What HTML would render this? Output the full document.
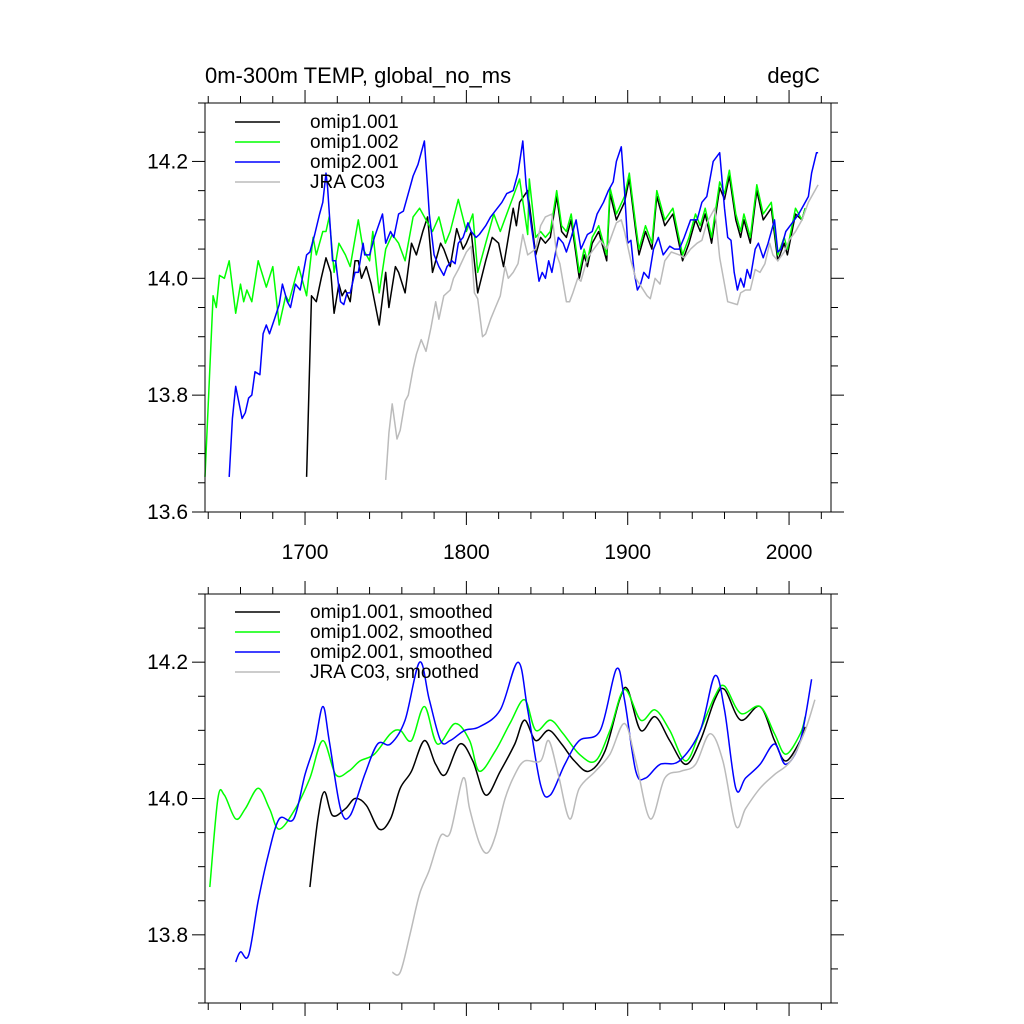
<!DOCTYPE html>
<html><head><meta charset="utf-8"><style>
html,body{margin:0;padding:0;background:#fff;}
svg{display:block;font-family:"Liberation Sans",sans-serif;}
</style></head><body>
<svg id="chart" width="1024" height="1024" viewBox="0 0 1024 1024" xmlns="http://www.w3.org/2000/svg"></svg>
<script>
// ---- TOP PANEL DATA (raw) ----
const greenYears = [1638,1643,1645,1647,1650,1653,1657,1660,1662,1664,1667,1671,1676,1680,1684,1688,1690,1696,1701,1705,1707,1711,1713,1715,1718,1721,1725,1728,1733,1736,1740,1742,1746,1750,1754,1758,1762,1767,1771,1775,1779,1783,1787,1790,1795,1800,1804,1807,1812,1817,1821,1829,1833,1838,1839,1843,1846,1849,1852,1856,1859,1862,1865,1870,1873,1875,1878,1882,1887,1889,1893,1898,1901,1905,1907,1911,1915,1918,1923,1928,1931,1934,1938,1942,1945,1948,1952,1957,1960,1963,1967,1970,1972,1976,1980,1984,1989,1993,1997,1999,2004,2008,2010];
const greenVals  = [13.66,13.97,13.95,14.005,14.0,14.03,13.94,13.99,13.96,13.98,13.96,14.03,13.985,14.02,13.92,13.97,13.96,14.02,13.97,14.07,14.04,14.08,14.08,14.105,14.01,14.06,14.04,14.02,14.1,14.05,14.03,14.08,13.975,14.05,14.075,14.06,14.03,14.105,14.12,14.1,14.08,14.105,14.06,14.08,14.135,14.08,14.11,14.01,14.06,14.11,14.08,14.14,14.17,14.075,14.17,14.07,14.08,14.07,14.08,14.15,14.09,14.08,14.11,14.01,14.05,14.03,14.07,14.09,14.04,14.155,14.11,14.14,14.18,14.09,14.05,14.09,14.06,14.15,14.1,14.12,14.08,14.04,14.07,14.11,14.09,14.12,14.07,14.165,14.145,14.185,14.11,14.08,14.11,14.07,14.16,14.11,14.13,14.04,14.07,14.05,14.12,14.1,14.12];
const blackYears = [1701,1704,1707,1710,1713,1716,1718,1721,1723,1725,1728,1731,1733,1735,1738,1741,1746,1750,1752,1756,1758,1762,1766,1769,1773,1776,1779,1784,1786,1790,1794,1798,1800,1803,1807,1812,1816,1820,1823,1829,1831,1833,1838,1843,1846,1849,1852,1856,1859,1862,1865,1870,1873,1875,1878,1882,1887,1889,1893,1898,1901,1905,1907,1911,1915,1918,1923,1928,1931,1934,1938,1942,1945,1948,1952,1957,1960,1963,1967,1970,1972,1976,1980,1984,1989,1993,1997,1999,2004,2008,2010];
const blackVals  = [13.66,13.97,13.96,14.0,14.035,14.01,13.94,13.99,13.97,13.98,13.96,14.03,14.03,14.0,14.02,13.99,13.92,14.01,13.95,14.02,14.01,13.975,14.06,14.04,14.08,14.105,14.01,14.06,14.05,14.02,14.085,14.05,14.06,14.08,13.975,14.03,14.07,14.06,14.02,14.12,14.09,14.13,14.15,14.04,14.07,14.06,14.07,14.14,14.08,14.07,14.1,14.0,14.04,14.02,14.06,14.08,14.03,14.145,14.1,14.13,14.17,14.08,14.04,14.08,14.05,14.14,14.09,14.11,14.07,14.03,14.06,14.1,14.08,14.11,14.06,14.155,14.135,14.175,14.1,14.07,14.1,14.06,14.15,14.1,14.12,14.03,14.06,14.04,14.11,14.1,14.12];
const blueYears = [1653,1655,1657,1661,1663,1665,1667,1669,1672,1674,1676,1678,1681,1684,1686,1689,1691,1694,1697,1699,1701,1703,1706,1709,1711,1713,1714,1717,1719,1722,1724,1726,1728,1731,1733,1736,1737,1740,1743,1748,1750,1753,1755,1758,1761,1765,1767,1770,1774,1776,1777,1780,1783,1786,1788,1791,1793,1795,1798,1801,1803,1806,1808,1812,1815,1822,1825,1829,1832,1835,1837,1840,1843,1845,1847,1849,1851,1853,1857,1860,1862,1865,1868,1871,1875,1878,1881,1885,1888,1891,1893,1896,1898,1900,1902,1904,1906,1908,1910,1913,1916,1919,1922,1926,1929,1932,1935,1939,1943,1946,1949,1951,1953,1957,1960,1962,1964,1966,1968,1970,1972,1974,1976,1979,1981,1984,1987,1991,1993,1995,1998,2002,2006,2009,2012,2014,2017,2018];
const blueVals  = [13.66,13.76,13.815,13.76,13.77,13.795,13.8,13.84,13.835,13.905,13.92,13.905,13.93,13.955,13.99,13.96,13.95,13.99,13.98,14.01,14.04,14.045,14.075,14.11,14.13,14.18,14.155,14.03,14.03,13.96,13.955,13.975,13.975,14.01,14.01,14.06,14.04,14.04,14.07,14.11,14.06,14.08,14.07,14.11,14.115,14.155,14.175,14.195,14.235,14.155,14.11,14.04,14.02,14.005,14.02,14.03,14.025,14.06,14.07,14.095,14.08,14.07,14.075,14.09,14.105,14.13,14.145,14.15,14.18,14.235,14.16,14.095,14.035,13.995,14.01,14.0,14.03,14.01,14.07,14.06,14.045,14.07,14.1,14.05,14.075,14.08,14.11,14.13,14.15,14.165,14.2,14.225,14.15,14.06,14.065,14.01,13.98,13.99,14.01,14.0,14.05,14.07,14.04,14.055,14.05,14.05,14.07,14.1,14.1,14.13,14.14,14.17,14.2,14.215,14.12,14.07,14.065,14.01,13.98,14.0,13.985,14.015,14.0,14.05,14.06,14.035,14.06,14.1,14.045,14.05,14.08,14.095,14.11,14.125,14.14,14.18,14.215,14.215];
const grayYears = [1750,1752,1754,1757,1759,1762,1764,1767,1769,1772,1775,1778,1781,1783,1786,1790,1792,1795,1800,1803,1805,1807,1810,1812,1815,1818,1821,1824,1826,1829,1832,1835,1838,1843,1846,1849,1853,1856,1858,1862,1864,1866,1869,1871,1875,1879,1883,1887,1889,1893,1896,1898,1902,1905,1912,1914,1917,1920,1923,1927,1932,1935,1939,1943,1946,1949,1954,1957,1960,1962,1968,1970,1973,1976,1979,1982,1985,1988,1990,1993,1997,2000,2004,2008,2012,2016,2018];
const grayVals  = [13.655,13.735,13.785,13.725,13.74,13.79,13.8,13.845,13.87,13.895,13.875,13.915,13.96,13.93,13.97,13.98,14.0,14.015,14.045,14.055,13.975,13.965,13.9,13.905,13.93,13.95,13.97,14.02,14.0,14.01,14.025,14.075,14.04,14.05,14.09,14.105,14.11,14.04,14.025,13.96,13.96,13.975,14.0,13.995,14.035,14.05,14.065,14.05,14.065,14.095,14.1,14.08,14.03,14.0,13.97,13.965,14.0,13.99,14.03,14.045,14.04,14.035,14.05,14.06,14.065,14.095,14.12,14.035,13.99,13.96,13.955,13.975,13.98,13.98,14.015,14.01,14.025,14.06,14.04,14.03,14.045,14.065,14.08,14.1,14.13,14.15,14.16];
// ---- BOTTOM PANEL DATA (smoothed) ----
const sBlackYears = [1703,1708,1712,1717,1725,1731,1738,1746,1753,1759,1766,1774,1781,1787,1796,1804,1812,1821,1830,1836,1843,1851,1859,1867,1876,1886,1895,1900,1908,1917,1926,1936,1945,1954,1960,1970,1982,1991,1998,2007,2010];
const sBlackVals  = [13.87,13.97,14.01,13.975,13.985,14.0,13.99,13.955,13.97,14.015,14.04,14.085,14.05,14.035,14.08,14.055,14.005,14.04,14.08,14.115,14.085,14.1,14.08,14.055,14.04,14.07,14.145,14.16,14.1,14.12,14.085,14.05,14.085,14.145,14.16,14.115,14.135,14.085,14.055,14.085,14.105];
const sGreenYears = [1641,1646,1650,1657,1663,1671,1678,1684,1694,1703,1711,1719,1727,1734,1743,1753,1759,1766,1774,1782,1793,1802,1808,1818,1827,1836,1843,1852,1860,1870,1880,1889,1898,1908,1917,1926,1936,1945,1954,1960,1970,1982,1991,1998,2007,2010];
const sGreenVals  = [13.87,14.0,14.005,13.97,13.985,14.015,13.985,13.955,13.985,14.03,14.085,14.035,14.04,14.055,14.065,14.095,14.1,14.085,14.135,14.08,14.11,14.085,14.04,14.07,14.11,14.145,14.1,14.115,14.095,14.065,14.055,14.1,14.16,14.115,14.13,14.1,14.055,14.1,14.15,14.165,14.125,14.135,14.095,14.065,14.095,14.12];
const sBlueYears = [1657,1660,1665,1671,1677,1684,1693,1700,1706,1711,1715,1722,1728,1737,1745,1753,1762,1771,1777,1784,1790,1799,1808,1821,1832,1838,1846,1852,1861,1870,1883,1893,1898,1905,1911,1920,1932,1945,1954,1960,1967,1973,1982,1991,1998,2007,2014];
const sBlueVals  = [13.76,13.775,13.77,13.85,13.915,13.97,13.97,14.035,14.08,14.135,14.085,13.985,13.975,14.035,14.08,14.08,14.115,14.2,14.145,14.085,14.085,14.1,14.105,14.13,14.2,14.13,14.02,14.005,14.05,14.085,14.1,14.19,14.145,14.04,14.03,14.05,14.055,14.1,14.18,14.13,14.015,14.03,14.05,14.08,14.05,14.085,14.175];
const sGrayYears = [1754,1759,1765,1771,1777,1784,1790,1798,1802,1808,1813,1818,1824,1830,1836,1846,1851,1857,1864,1870,1880,1889,1898,1905,1914,1923,1933,1942,1951,1959,1967,1973,1982,1991,2001,2010,2016];
const sGrayVals  = [13.745,13.745,13.8,13.86,13.895,13.945,13.95,14.03,13.985,13.935,13.92,13.945,14.0,14.035,14.055,14.055,14.085,14.035,13.97,14.015,14.04,14.065,14.11,14.055,13.97,14.03,14.04,14.05,14.095,14.055,13.96,13.985,14.015,14.035,14.055,14.1,14.145];
const topYTicks = [13.6,13.8,14.0,14.2];
const botYTicks = [13.8,14.0,14.2];
const xTicks = [1700,1800,1900,2000];
const topLegend = ["omip1.001","omip1.002","omip2.001","JRA C03"];
const botLegend = ["omip1.001, smoothed","omip1.002, smoothed","omip2.001, smoothed","JRA C03, smoothed"];

const NS="http://www.w3.org/2000/svg";
const svg=document.getElementById('chart');
const colors=["#000000","#00ff00","#0000ff","#bbbbbb"];
const X0=205,X1=831,YR0=1638,YR1=2026;
function xs(yr){return X0+(yr-YR0)/(YR1-YR0)*(X1-X0);}
function mk(tag,attrs,parent){const e=document.createElementNS(NS,tag);for(const k in attrs)e.setAttribute(k,attrs[k]);(parent||svg).appendChild(e);return e;}

function panel(name,top,bot,vmin,vmax,yTicks,showX,series,legend,legendY,smooth){
  const g=mk('g',{});
  
  
  const ys=v=>bot-(v-vmin)/(vmax-vmin)*(bot-top);
  series.forEach((s,i)=>{
    const pts=s[0].map((yr,j)=>[xs(yr),ys(s[1][j])]);
    let d='M'+pts[0][0].toFixed(1)+','+pts[0][1].toFixed(1);
    if(smooth){
      for(let j=0;j<pts.length-1;j++){
        const p0=pts[Math.max(0,j-1)],p1=pts[j],p2=pts[j+1],p3=pts[Math.min(pts.length-1,j+2)];
        const c1=[p1[0]+(p2[0]-p0[0])/6,p1[1]+(p2[1]-p0[1])/6];
        const c2=[p2[0]-(p3[0]-p1[0])/6,p2[1]-(p3[1]-p1[1])/6];
        d+='C'+c1[0].toFixed(1)+','+c1[1].toFixed(1)+' '+c2[0].toFixed(1)+','+c2[1].toFixed(1)+' '+p2[0].toFixed(1)+','+p2[1].toFixed(1);
      }
    } else {
      for(let j=1;j<pts.length;j++)d+='L'+pts[j][0].toFixed(1)+','+pts[j][1].toFixed(1);
    }
    const p=mk('path',{d:d,fill:'none',stroke:colors[i],'stroke-width':1.5,'stroke-linejoin':'round'},g);
    
    
  });
  const fr=mk('rect',{x:X0,y:top,width:X1-X0,height:bot-top,fill:'none',stroke:'#000','stroke-width':1},g);
  
  
  for(let yr=1640;yr<=2020;yr+=20){
    const x=xs(yr),maj=(yr%100===0),L=maj?13:7;
    mk('line',{x1:x,y1:bot,x2:x,y2:bot+L,stroke:'#000'},g);
    mk('line',{x1:x,y1:top,x2:x,y2:top-L,stroke:'#000'},g);
  }
  if(showX){
    xTicks.forEach(t=>{
      const tx=mk('text',{x:xs(t),y:bot+47,'font-size':21,'text-anchor':'middle'},g);
      tx.textContent=t;
      
      
    });
  }
  for(let v=vmin;v<=vmax+1e-6;v+=0.05){
    const y=ys(v);const maj=Math.abs(Math.round(v*10)-v*10)<1e-6&&Math.round(v*10)%2===0;const L=maj?13:7;
    mk('line',{x1:X0,y1:y,x2:X0-L,y2:y,stroke:'#000'},g);
    mk('line',{x1:X1,y1:y,x2:X1+L,y2:y,stroke:'#000'},g);
  }
  yTicks.forEach(t=>{
    const tx=mk('text',{x:X0-17,y:ys(t)+7,'font-size':21,'text-anchor':'end'},g);
    tx.textContent=t.toFixed(1);
    
    
  });
  legend.forEach((lab,i)=>{
    const y=legendY+i*20;
    const ln=mk('line',{x1:235,y1:y,x2:280,y2:y,stroke:colors[i],'stroke-width':1.5},g);
    
    
    const tx=mk('text',{x:310,y:y+6,'font-size':19},g);
    tx.textContent=lab;
    
    
  });
}

const t1=mk('text',{x:205,y:83,'font-size':22});
t1.textContent='0m-300m TEMP, global_no_ms';


const t2=mk('text',{x:820,y:83,'font-size':22,'text-anchor':'end'});
t2.textContent='degC';



panel('top-panel',103,512,13.6,14.3,topYTicks,true,
  [[blackYears,blackVals],[greenYears,greenVals],[blueYears,blueVals],[grayYears,grayVals]],topLegend,122,false);
panel('bottom-panel',594,1003,13.7,14.3,botYTicks,false,
  [[sBlackYears,sBlackVals],[sGreenYears,sGreenVals],[sBlueYears,sBlueVals],[sGrayYears,sGrayVals]],botLegend,612,true);
</script>
</body></html>
